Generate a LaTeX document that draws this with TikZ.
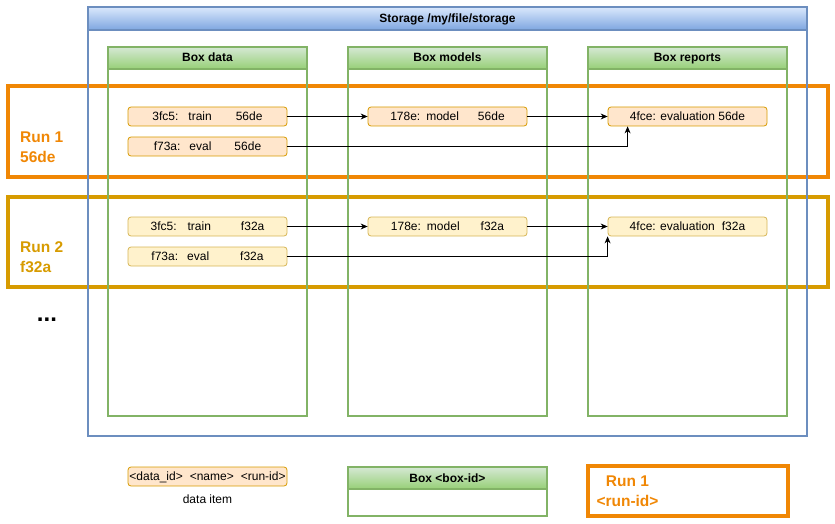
\documentclass[tikz,border=0pt]{standalone}
\usepackage{fontspec}
\setmainfont{Liberation Sans}
\usetikzlibrary{arrows.meta,positioning,calc}

\definecolor{runone}{RGB}{240,135,5}
\definecolor{runtwo}{RGB}{215,155,0}
\definecolor{storeline}{HTML}{6C8EBF}
\definecolor{boxline}{HTML}{82B366}
\definecolor{itemfillA}{HTML}{FFE6CC}
\definecolor{itemlineA}{HTML}{D79B00}
\definecolor{itemfillB}{HTML}{FFF2CC}
\definecolor{itemlineB}{HTML}{D6B656}

\tikzset{
  txt/.style={font=\fontsize{12}{14}\selectfont},
  itemA/.style={draw=itemlineA, fill=itemfillA, rounded corners=3pt, line width=0.8,
    minimum width=159, minimum height=19, inner sep=0pt, text height=9.5pt, text depth=1.5pt, txt},
  itemB/.style={itemA, draw=itemlineB, fill=itemfillB},
  header/.style={draw=boxline, line width=1.5,
    top color={rgb,255:red,213;green,232;blue,212}, bottom color={rgb,255:red,151;green,208;blue,119},
    minimum width=199, minimum height=22, inner sep=0pt, text height=9.5pt, text depth=1.5pt,
    font=\fontsize{12}{14}\selectfont\bfseries},
  runbox/.style={line width=4},
  runlabel/.style={font=\fontsize{15.5}{20}\selectfont\bfseries, align=left, inner sep=0pt},
  flow/.style={-{Stealth[length=7pt,width=6pt]}, line width=0.8},
}

\begin{document}
\begin{tikzpicture}[x=1pt,y=-1pt]
  \useasboundingbox (0,0) rectangle (835,524);

  % runs
  \draw[runbox, draw=runone] (7.5,86.5) rectangle (827.5,176.5);
  \draw[runbox, draw=runtwo] (7.5,196.5) rectangle (827.5,286.5);
  \node[runlabel, text=runone, anchor=west] (lrun1) at (20,147) {Run 1\\56de};
  \node[runlabel, text=runtwo, anchor=west] (lrun2) at (20,257) {Run 2\\f32a};
  \node[font=\fontsize{24}{24}\selectfont\bfseries] (more) at (47,320) {...};

  % storage
  \draw[storeline, line width=1.5] (88,7) rectangle (807,436);
  \node[draw=storeline, line width=1.5, top color={rgb,255:red,218;green,232;blue,252},
    bottom color={rgb,255:red,126;green,166;blue,224}, minimum width=719, minimum height=23,
    inner sep=0pt, text height=9.5pt, text depth=1.5pt,
    font=\fontsize{12}{14}\selectfont\bfseries] (store) at (447.5,18.5)
    {Storage /my/file/storage};

  % boxes
  \foreach \x/\name/\lab in {108/data/Box data, 348/models/Box models, 588/reports/Box reports}{
    \draw[boxline, line width=1.5] (\x,47) rectangle ({\x+199},416);
    \node[header] (h\name) at ({\x+99.5},58) {\lab};
  }

  % run 1 items
  \node[itemA] (train1) at (207.5,116.5) {3fc5:\hspace{10pt}train\hspace{24pt}56de};
  \node[itemA] (eval1)  at (207.5,146.5) {f73a:\hspace{9pt}eval\hspace{23pt}56de};
  \node[itemA] (model1) at (447.5,116.5) {178e:\hspace{6pt}model\hspace{19pt}56de};
  \node[itemA] (rep1)   at (687.5,116.5) {4fce: evaluation 56de};
  \coordinate (in1) at ($(rep1.south west)+(20,0)$);
  \draw[flow] (train1) -- (model1);
  \draw[flow] (model1) -- (rep1);
  \draw[flow] (eval1.east) -| (in1);

  % run 2 items
  \node[itemB] (train2) at (207.5,226.5) {3fc5:\hspace{11pt}train\hspace{30pt}f32a};
  \node[itemB] (eval2)  at (207.5,256.5) {f73a:\hspace{9pt}eval\hspace{31pt}f32a};
  \node[itemB] (model2) at (447.5,226.5) {178e:\hspace{6pt}model\hspace{21pt}f32a};
  \node[itemB] (rep2)   at (687.5,226.5) {4fce: evaluation\hspace{7pt}f32a};
  \draw[flow] (train2) -- (model2);
  \draw[flow] (model2) -- (rep2);
  \draw[flow] (eval2.east) -| (rep2.south west);

  % legend
  \node[itemA] (ditem) at (207.5,476.5) {<data\_id>\hspace{7pt}<name>\hspace{7pt}<run-id>};
  \node[txt, below=5pt of ditem] (dlab) {data item};
  \draw[boxline, line width=1.5] (348,467) rectangle (547,516);
  \node[header] (hbox) at (447.5,478) {Box <box-id>};
  \draw[runbox, draw=runone] (588,466) rectangle (788,516);
  \node[runlabel, align=center, text=runone] (lrun) at (627.5,491) {Run 1\\<run-id>};
\end{tikzpicture}
\end{document}
